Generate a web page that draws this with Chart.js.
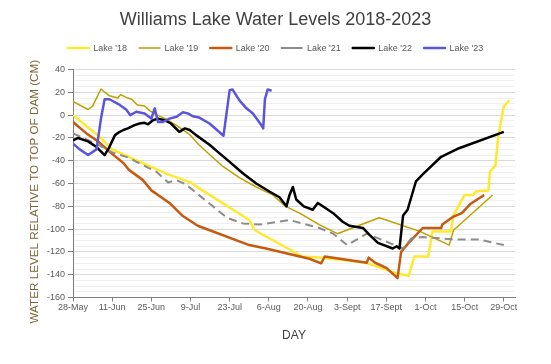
<!DOCTYPE html>
<html>
<head>
<meta charset="utf-8">
<script src="https://cdn.jsdelivr.net/npm/chart.js@4.4.0/dist/chart.umd.min.js"></script>
<style>
  body { margin: 0; background: #fff; }
  canvas { display: block; }
</style>
</head>
<body>
<canvas id="myChart" width="551" height="364"></canvas>
<script>
// etiquetas del eje x (cada 14 dias desde 28-May)
const dayLabels = ['28-May', '11-Jun', '25-Jun', '9-Jul', '23-Jul', '6-Aug', '20-Aug', '3-Sept', '17-Sept', '1-Oct', '15-Oct', '29-Oct'];
const yTicks = [-160, -140, -120, -100, -80, -60, -40, -20, 0, 20, 40];

// dia (desde 28-May) y nivel en cm para cada año
const days18 = [0, 9.5, 14, 23, 34, 42, 45, 63, 65, 82, 88, 104, 116, 120, 122, 127, 128.5, 135, 136, 140, 143, 144, 148.5, 149, 151, 152, 154, 156];
const lake18 = [0, -19, -30, -40, -52, -59, -64, -92, -101, -124, -125, -129, -139, -141, -124, -124, -102, -102, -88, -70, -70, -67, -66, -50, -44, -19, 8, 13];

const days19 = [0, 5.4, 7, 10, 13, 16, 17, 19.6, 21, 23, 25.6, 27.4, 30, 33, 37, 41.7, 45, 49, 53.6, 59.6, 65.5, 71.4, 76, 81, 88, 94.5, 109.5, 124, 134.5, 136, 150];
const lake19 = [12, 5, 8, 23, 17, 15, 18, 15, 14, 9, 8, 4, 0, -3, -9, -17, -26, -35, -45, -55, -63, -70, -80, -86, -96, -104, -90, -102, -114, -101, -70];

const days20 = [0, 4.8, 9, 13, 18, 20, 25, 28, 34.5, 39, 44.6, 63, 69, 84.5, 88.7, 90, 105, 105.7, 108, 112, 116, 117.3, 120, 125, 131.6, 132, 136, 139, 142, 147];
const lake20 = [-6, -16, -23, -32, -42, -48, -57, -66, -77, -88, -97, -114, -117, -126, -130, -124, -129.5, -125, -129.5, -134, -143, -120, -112, -99, -99, -96, -89, -86, -78, -70];

const days21 = [0, 3.6, 9, 14.3, 19.6, 24.4, 30, 34, 37, 40.5, 44, 50, 55, 60.7, 66.7, 77.4, 88, 93, 98, 105, 118, 121, 125, 136, 145, 154];
const lake21 = [-16, -20, -26, -33, -37, -43, -50, -59, -57, -61, -68, -80, -90, -95, -96, -92, -99, -104, -114, -104, -117, -108, -107, -109, -109, -114];

const days22 = [0, 1.8, 5.4, 8.4, 11.3, 13, 15, 16.7, 18, 19.6, 22, 23.8, 25.6, 26.8, 28.6, 30.4, 32.7, 35, 38, 40, 41.7, 44, 48.8, 52.4, 56, 60.7, 65.5, 70.2, 73.8, 76.3, 77.4, 78.6, 79.8, 82.5, 85.7, 87.5, 89.3, 93, 96.4, 98.8, 103.6, 106, 109, 114.3, 115.7, 116.7, 118, 119.6, 122.6, 125, 131.6, 138, 154];
const lake22 = [-22, -20, -23, -28, -35, -28, -17.5, -14.6, -13, -11.6, -8.7, -7.3, -6.7, -8, -4.4, -3, -4.4, -7.3, -14.6, -11.6, -13, -17.5, -26, -33.5, -41, -51, -60, -67, -72, -80, -70, -63, -74, -80, -83, -77, -80, -86, -93.5, -97, -99, -105, -112, -117, -115, -117, -88, -83, -58, -52, -36.5, -29, -14.6];

const days23 = [0, 2.4, 5.4, 8.4, 10, 11.3, 13, 16.7, 19, 20.5, 22.6, 25.6, 28, 29.2, 30.4, 32, 34.5, 37, 39.3, 41, 42.9, 45, 48.8, 53.8, 56, 57, 59.5, 62, 64.3, 67.3, 68, 68.6, 69.6, 71];
const lake23 = [-25, -30, -35, -30, -3, 14, 14, 9, 5, 0, 3, 1.5, -3, 6, -6, -6, -3, -1.4, 2.5, 1.6, -1, -2, -7.3, -18, 22, 22.6, 13, 6, 1.5, -8.7, -11.6, 14, 22.6, 21.4];

const seriesNames = ["Lake '18", "Lake '19", "Lake '20", "Lake '21", "Lake '22", "Lake '23"];
const seriesDays = [days18, days19, days20, days21, days22, days23];
const seriesLevels = [lake18, lake19, lake20, lake21, lake22, lake23];
const seriesColors = ['#FFE930', '#BFA000', '#C55A11', '#8C8C8C', '#000000', '#5B55DB'];
const seriesWidths = [2.5, 1.5, 2.5, 2, 2.5, 2.5];

const FONT = "'Liberation Sans', Arial, sans-serif";

// arma los datasets
let datasets = seriesNames.map(function (name, k) {
  return {
    label: name,
    data: seriesDays[k].map((d, j) => ({ x: d, y: seriesLevels[k][j] })),
    borderColor: seriesColors[k],
    backgroundColor: seriesColors[k],
    borderWidth: seriesWidths[k],
    borderDash: k === 3 ? [8, 5] : [],
    borderJoinStyle: 'round',
    pointRadius: 0,
    tension: 0,
    fill: false,
    order: 6 - k
  };
});

// ejes vacios solo para dejar espacio (arriba y a la derecha)
const spacerAxis = {
  display: true,
  ticks: { display: false },
  grid: { display: false },
  border: { display: false }
};

new Chart(document.getElementById('myChart'), {
  type: 'line',
  data: { datasets: datasets },
  options: {
    responsive: false,
    animation: false,
    devicePixelRatio: 1,
    layout: { padding: { top: 0, left: 18, right: 18, bottom: 0 } },
    plugins: {
      title: {
        display: true,
        text: 'Williams Lake Water Levels 2018-2023',
        color: '#404040',
        font: { family: FONT, size: 18, weight: 'normal' },
        padding: { top: 9, bottom: 1 }
      },
      legend: {
        position: 'top',
        labels: {
          color: '#595959',
          font: { family: FONT, size: 9 },
          boxWidth: 21,
          boxHeight: 0,
          padding: 12,
          sort: (a, b) => a.datasetIndex - b.datasetIndex
        }
      },
      tooltip: { enabled: false }
    },
    scales: {
      x: {
        type: 'linear',
        min: 0,
        max: 158,
        afterBuildTicks: function (scale) {
          scale.ticks = dayLabels.map((_, i) => ({ value: i * 14 }));
        },
        afterFit: function (scale) { scale.height = 66.5; },
        ticks: {
          autoSkip: false,
          maxRotation: 0,
          padding: 1,
          color: '#595959',
          font: { family: FONT, size: 9 },
          callback: function (value) { return dayLabels[Math.round(value / 14)]; }
        },
        grid: { drawOnChartArea: false, tickLength: 4, tickColor: '#7F7F7F' },
        border: { color: '#7F7F7F', width: 1 },
        title: {
          display: true,
          text: 'DAY',
          color: '#404040',
          font: { family: FONT, size: 12 },
          padding: { top: 0, bottom: 21 }
        }
      },
      x2: Object.assign({ type: 'linear', axis: 'x', position: 'top', afterFit: (s) => { s.height = 7; } }, spacerAxis),
      y: {
        min: yTicks[0],
        max: yTicks[yTicks.length - 1],
        afterFit: function (scale) { scale.width = 55; },
        ticks: {
          stepSize: 5,
          autoSkip: false,
          padding: 3,
          color: '#595959',
          font: { family: FONT, size: 9 },
          callback: function (value) { return yTicks.includes(value) ? String(value) : ''; }
        },
        grid: {
          color: (ctx) => (ctx.tick && ctx.tick.value % 20 === 0) ? '#D9D9D9' : '#F0F0F0',
          tickColor: (ctx) => (ctx.tick && ctx.tick.value % 20 === 0) ? '#7F7F7F' : 'rgba(0,0,0,0)',
          tickLength: 5
        },
        border: { color: '#7F7F7F', width: 1 },
        title: {
          display: true,
          text: 'WATER LEVEL RELATIVE TO TOP OF DAM (CM)     ',
          color: '#7A6534',
          font: { family: FONT, size: 11.7 },
          padding: { top: 10, bottom: 0 }
        }
      },
      y2: Object.assign({ type: 'linear', axis: 'y', position: 'right', afterFit: (s) => { s.width = 18; } }, spacerAxis)
    }
  }
});
</script>
</body>
</html>
